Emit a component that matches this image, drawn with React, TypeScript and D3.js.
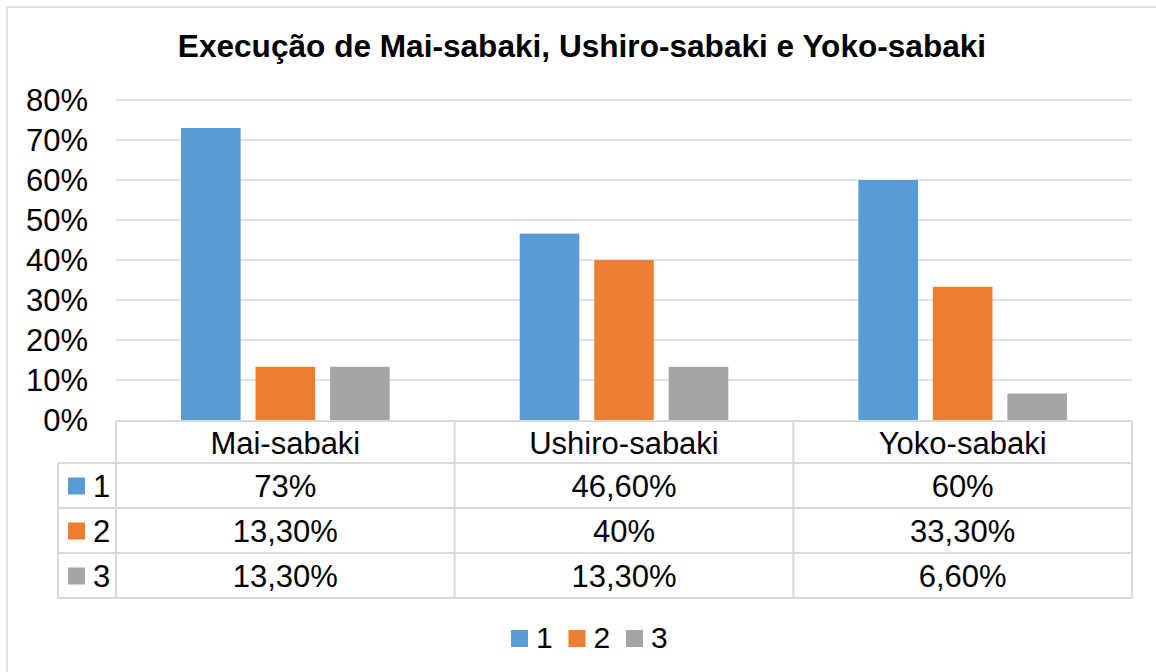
import * as d3 from 'd3';

const categories = ['Mai-sabaki', 'Ushiro-sabaki', 'Yoko-sabaki'];
const seriesNames = ['1', '2', '3'];
const seriesValues = [
  [0.73, 0.466, 0.6],
  [0.133, 0.4, 0.333],
  [0.133, 0.133, 0.066],
];
const tableLabels = [
  ['73%', '46,60%', '60%'],
  ['13,30%', '40%', '33,30%'],
  ['13,30%', '13,30%', '6,60%'],
];
const yTicks = [0, 0.1, 0.2, 0.3, 0.4, 0.5, 0.6, 0.7, 0.8];
const colors = ['#5B9BD5', '#ED7D31', '#A5A5A5'];
const title = 'Execução de Mai-sabaki, Ushiro-sabaki e Yoko-sabaki';

export default function App() {
  const width = 1156;
  const height = 672;
  const font = '"Liberation Sans", Arial, sans-serif';
  const fs = 31;
  const grid = '#D9D9D9';

  // plot area
  const left = 116;
  const right = 1132;
  const top = 100;
  const bottom = 420;

  const y = d3.scaleLinear().domain([0, 0.8]).range([bottom, top]);
  const x0 = d3.scaleBand().domain(categories).range([left, right]).padding(0);
  const outer = x0.bandwidth() * 0.192;
  const x1 = d3
    .scaleBand()
    .domain(seriesNames)
    .range([outer, x0.bandwidth() - outer])
    .paddingInner(0.2);

  // data table
  const keyLeft = 58;
  const headerTop = 421;
  const headerH = 42;
  const rowH = 45;
  const rowTop = (i: number) => headerTop + headerH + i * rowH;
  const tableBottom = rowTop(seriesNames.length);

  // legend
  const legendX = d3.scalePoint().domain(seriesNames).range([511, 626]);

  return (
    <svg
      width={width}
      height={height}
      style={{ position: 'absolute', left: 0, top: 0, background: '#fff' }}
      fontFamily={font}
    >
      <rect x={7} y={7} width={1170} height={700} fill="#fff" stroke={grid} strokeWidth={1.5} />

      <text x={582} y={57} textAnchor="middle" fontSize={31.6} fontWeight="bold" fill="#000">
        {title}
      </text>

      {/* gridlines */}
      {yTicks.filter((t) => t > 0).map((t) => (
        <line key={t} x1={left} x2={right} y1={y(t)} y2={y(t)} stroke={grid} strokeWidth={1.5} />
      ))}

      {/* y tick labels */}
      {yTicks.map((t) => (
        <text key={t} x={88} y={y(t) + 11} textAnchor="end" fontSize={fs} fill="#000">
          {d3.format('.0%')(t)}
        </text>
      ))}

      {/* bars */}
      {categories.map((c, ci) => (
        <g key={c} transform={`translate(${x0(c)},0)`}>
          {seriesNames.map((s, si) => (
            <rect
              key={s}
              x={x1(s)}
              y={y(seriesValues[si][ci])}
              width={x1.bandwidth()}
              height={bottom - y(seriesValues[si][ci])}
              fill={colors[si]}
            />
          ))}
        </g>
      ))}

      {/* table lines */}
      <g stroke={grid} strokeWidth={2} fill="none">
        <line x1={left} x2={right} y1={headerTop} y2={headerTop} />
        {seriesNames.map((s, i) => (
          <line key={s} x1={keyLeft} x2={right} y1={rowTop(i)} y2={rowTop(i)} />
        ))}
        <line x1={keyLeft} x2={right} y1={tableBottom} y2={tableBottom} />
        <line x1={keyLeft} x2={keyLeft} y1={rowTop(0)} y2={tableBottom} />
        {categories.map((c) => (
          <line key={c} x1={x0(c)} x2={x0(c)} y1={headerTop} y2={tableBottom} />
        ))}
        <line x1={right} x2={right} y1={headerTop} y2={tableBottom} />
      </g>

      {/* table header */}
      {categories.map((c) => (
        <text
          key={c}
          x={(x0(c) as number) + x0.bandwidth() / 2}
          y={headerTop + headerH / 2 + 12}
          textAnchor="middle"
          fontSize={fs}
          fill="#000"
        >
          {c}
        </text>
      ))}

      {/* table rows */}
      {seriesNames.map((s, si) => (
        <g key={s}>
          <rect x={68} y={rowTop(si) + rowH / 2 - 8} width={17} height={17} fill={colors[si]} />
          <text x={93} y={rowTop(si) + rowH / 2 + 11} fontSize={fs} fill="#000">
            {s}
          </text>
          {categories.map((c, ci) => (
            <text
              key={c}
              x={(x0(c) as number) + x0.bandwidth() / 2}
              y={rowTop(si) + rowH / 2 + 11}
              textAnchor="middle"
              fontSize={fs}
              fill="#000"
            >
              {tableLabels[si][ci]}
            </text>
          ))}
        </g>
      ))}

      {/* legend */}
      {seriesNames.map((s, si) => (
        <g key={s} transform={`translate(${legendX(s)},630)`}>
          <rect x={0} y={0} width={17} height={17} fill={colors[si]} />
          <text x={25} y={18} fontSize={30} fill="#000">
            {s}
          </text>
        </g>
      ))}
    </svg>
  );
}
